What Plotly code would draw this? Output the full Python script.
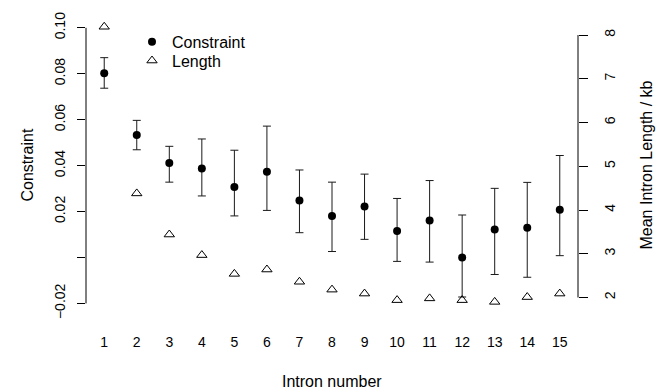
import plotly.graph_objects as go

# ---- data ----
intron = list(range(1, 16))
constraint = [0.0802, 0.0533, 0.0411, 0.0387, 0.0307, 0.0373, 0.0248, 0.0181,
              0.0222, 0.0115, 0.0161, 0.0000, 0.0122, 0.0129, 0.0208]
constraint_upper = [0.0870, 0.0597, 0.0484, 0.0516, 0.0467, 0.0572, 0.0381, 0.0328,
                    0.0363, 0.0257, 0.0335, 0.0185, 0.0301, 0.0327, 0.0444]
constraint_lower = [0.0737, 0.0469, 0.0328, 0.0268, 0.0181, 0.0205, 0.0108, 0.0026,
                    0.0079, -0.0017, -0.0020, -0.0172, -0.0074, -0.0086, 0.0008]
length_kb = [8.19, 4.38, 3.44, 2.97, 2.54, 2.64, 2.36, 2.18,
             2.09, 1.94, 1.98, 1.94, 1.90, 2.01, 2.09]

left_ticks = [-0.02, 0.0, 0.02, 0.04, 0.06, 0.08, 0.10]
left_ticktext = ["\u22120.02", "", "0.02", "0.04", "0.06", "0.08", "0.10"]
right_ticks = [2, 3, 4, 5, 6, 7, 8]
x_ticks = intron

FONT = "Liberation Sans, Arial, Helvetica, sans-serif"

err_plus = [u - c for u, c in zip(constraint_upper, constraint)]
err_minus = [c - l for c, l in zip(constraint, constraint_lower)]

fig = go.Figure()
fig.add_trace(go.Scatter(
    x=intron, y=constraint, mode="markers", name="Constraint", legend="legend",
    marker=dict(symbol="circle", size=8, color="black"),
    error_y=dict(type="data", symmetric=False, array=err_plus, arrayminus=err_minus,
                 color="#1a1a1a", thickness=1, width=4),
    yaxis="y", cliponaxis=False,
))
fig.add_trace(go.Scatter(
    x=intron, y=length_kb, mode="markers", name="Length", legend="legend2",
    marker=dict(symbol="triangle-up-open", size=9, color="black", line=dict(width=1, color="black")),
    yaxis="y2", cliponaxis=False,
))

leg_common = dict(xanchor="left", yanchor="top", bgcolor="rgba(0,0,0,0)",
                  font=dict(size=16), itemclick=False, itemdoubleclick=False)

fig.update_layout(
    width=660, height=391,
    margin=dict(l=86, r=82, t=13, b=77),
    paper_bgcolor="white", plot_bgcolor="white",
    font=dict(family=FONT, size=14, color="black"),
    showlegend=True,
    legend=dict(x=0.0935, y=0.9734, **leg_common),
    legend2=dict(x=0.0935, y=0.9103, **leg_common),
    xaxis=dict(range=[0.44, 15.56], tickvals=x_ticks, ticks="", showline=False,
               showgrid=False, zeroline=False, ticklabelstandoff=18,
               tickfont=dict(size=14)),
    yaxis=dict(range=[-0.0246, 0.1047], tickvals=left_ticks, ticktext=left_ticktext,
               ticks="outside", ticklen=8, tickcolor="black", tickwidth=1,
               tickangle=-90, showline=False, showgrid=False, zeroline=False,
               ticklabelstandoff=6, tickfont=dict(size=14)),
    yaxis2=dict(range=[1.623, 8.413], tickvals=right_ticks, overlaying="y", side="right",
                ticks="outside", ticklen=9, tickcolor="black", tickwidth=1,
                tickangle=-90, showline=False, showgrid=False, zeroline=False,
                ticklabelstandoff=10, tickfont=dict(size=14)),
    shapes=[
        dict(type="line", xref="paper", yref="y", x0=0, x1=0,
             y0=left_ticks[0], y1=left_ticks[-1], line=dict(color="black", width=1)),
        dict(type="line", xref="paper", yref="y2", x0=1, x1=1,
             y0=right_ticks[0], y1=right_ticks[-1], line=dict(color="black", width=1)),
    ],
    annotations=[
        dict(text="Intron number", xref="paper", yref="paper", x=0.5, y=0,
             xanchor="center", yanchor="middle", yshift=-67, showarrow=False,
             font=dict(size=16)),
        dict(text="Constraint", xref="paper", yref="paper", x=0, y=0.5,
             xanchor="center", yanchor="middle", xshift=-59, textangle=-90,
             showarrow=False, font=dict(size=16)),
        dict(text="Mean Intron Length / kb", xref="paper", yref="paper", x=1, y=0.5,
             xanchor="center", yanchor="middle", xshift=68, textangle=-90,
             showarrow=False, font=dict(size=16)),
    ],
)

fig.write_html("out.html")
